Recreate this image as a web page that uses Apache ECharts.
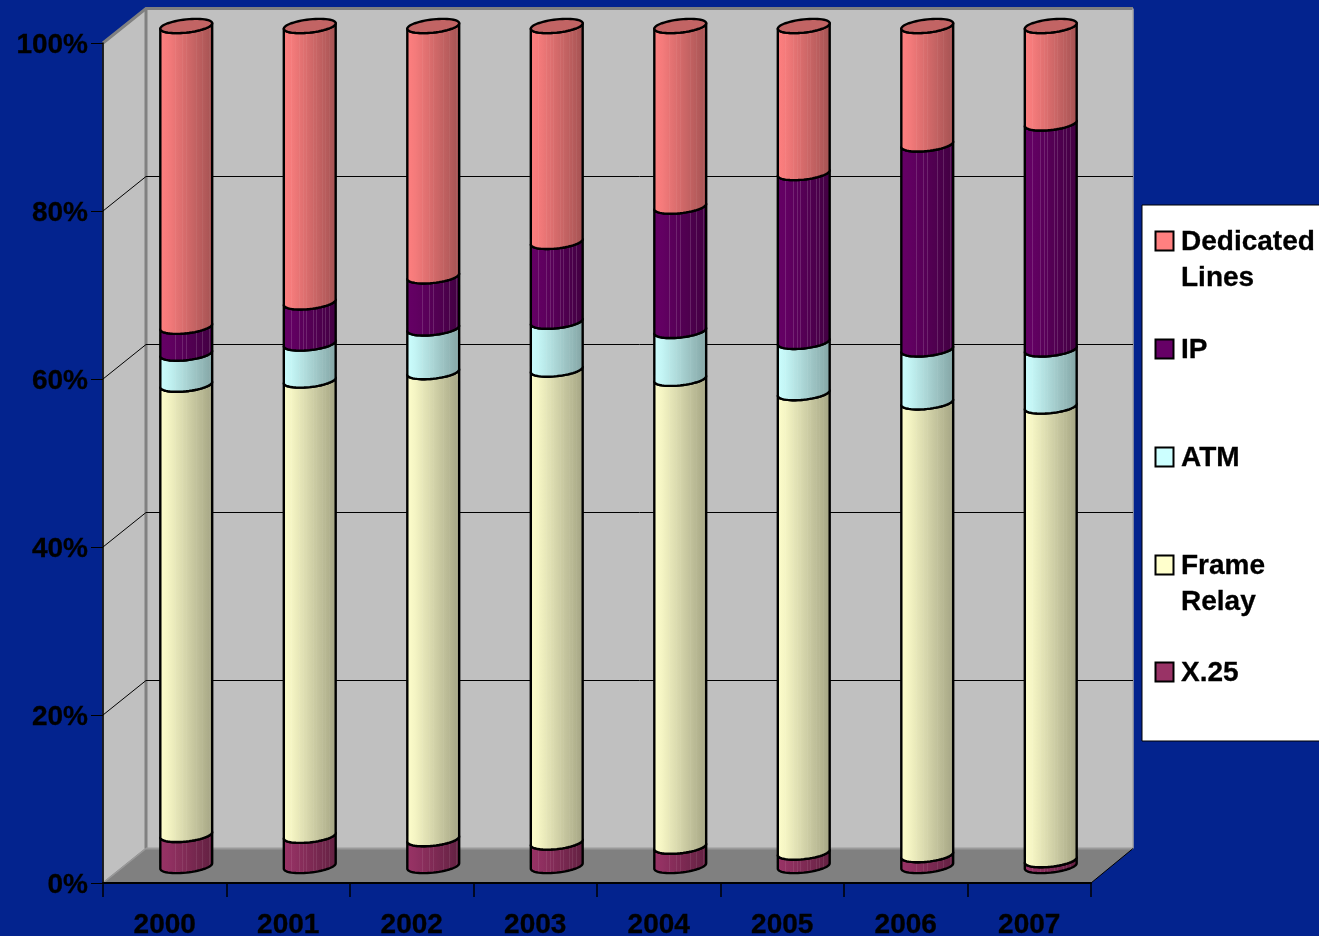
<!DOCTYPE html>
<html>
<head>
<meta charset="utf-8">
<style>html,body{margin:0;padding:0;background:#03238E;overflow:hidden}#c{width:1319px;height:936px}</style>
<script src="https://cdn.jsdelivr.net/npm/echarts@6/dist/echarts.min.js"></script>
</head>
<body>
<div id="c"></div>
<script>
const categories = ['2000','2001','2002','2003','2004','2005','2006','2007'];
const x25       = [3.7,3.6,3.2,2.8,2.3,1.6,1.3,0.7];
const frame     = [53.6,54.2,55.6,56.3,55.7,54.7,53.9,54.0];
const atm       = [3.7,4.4,5.2,5.7,5.7,6.1,6.3,6.8];
const ip        = [3.2,4.9,6.2,9.5,14.8,20.1,24.4,26.9];
const dedicated = [35.8,32.9,29.8,25.7,21.5,17.5,14.1,11.6];
const gridTicks = [0,20,40,60,80,100];

const seriesDefs = [
  {name:'X.25', values:x25, rgb:[153,51,102], stripe:.08},
  {name:'Frame Relay', values:frame, rgb:[255,255,204], stripe:.04},
  {name:'ATM', values:atm, rgb:[204,255,255], stripe:.04},
  {name:'IP', values:ip, rgb:[102,0,102], stripe:.14},
  {name:'Dedicated Lines', values:dedicated, rgb:[255,128,128], stripe:.05}
];
const legendRows = [
  {lines:['Dedicated','Lines'], rgb:[255,128,128], y:241},
  {lines:['IP'], rgb:[102,0,102], y:349},
  {lines:['ATM'], rgb:[204,255,255], y:457},
  {lines:['Frame','Relay'], rgb:[255,255,204], y:565},
  {lines:['X.25'], rgb:[153,51,102], y:672}
];

const DX = 43, DY = -34.5;          // depth of the 3D box
const MX = 21.5, MY = -17;          // where the cylinders stand inside the box
const RY = 6.6, TILT = 2.7;
const css = c => `rgb(${c.map(v=>Math.round(v)).join(',')})`;
const stripes = [.16,.3,.38,.43,.5,.56,.62,.68,.73,.79,.86,.92];

function bodyGradient(rgb, stripe){
  const shade = p => p < .06 ? 1 : 1 - .36 * (p - .06) / .94;
  const colorAt = (p, s) => {
    const k = shade(p);
    return css(rgb.map(v => { const b = v * k; return b + (255 - b) * s; }));
  };
  const stops = [];
  let prev = 0;
  stripes.forEach(p => {
    stops.push({offset:prev,color:colorAt(prev,0)});
    stops.push({offset:p,color:colorAt(p,0)});
    stops.push({offset:p,color:colorAt(p,stripe)});
    stops.push({offset:p+.012,color:colorAt(p+.012,stripe)});
    prev = p + .012;
  });
  stops.push({offset:prev,color:colorAt(prev,0)});
  stops.push({offset:1,color:colorAt(1,0)});
  return {type:'linear',x:0,y:0,x2:1,y2:0,colorStops:stops};
}
function arc(cx, cy, rx, front){
  const pts = [], n = 28;
  for(let i=0;i<=n;i++){
    const t = Math.PI - Math.PI * i / n;
    const sign = front ? 1 : -1;
    pts.push([cx + rx*Math.cos(t), cy + sign*RY*Math.sin(t) - TILT*Math.cos(t)]);
  }
  return pts;
}
function cylinderItem(def, isTop){
  return function(params, api){
    const base = api.coord([api.value(0), api.value(1)]);
    const top = api.coord([api.value(0), api.value(2)]);
    const rx = api.size([1,0])[0] * 0.21;
    const cx = base[0] + MX, yb = base[1] + MY, yt = top[1] + MY;
    const upper = arc(cx, yt, rx, true), lower = arc(cx, yb, rx, true);
    const pts = lower.slice().concat(upper.slice().reverse());
    const children = [{
      type:'polygon', shape:{points:pts},
      style:{fill:bodyGradient(def.rgb, def.stripe), stroke:'#000', lineWidth:2.4, lineJoin:'round'}
    }];
    if(isTop){
      const back = arc(cx, yt, rx, false).reverse();
      children.push({
        type:'polygon', shape:{points:upper.concat(back.slice(1,-1))},
        style:{fill:'#C26464', stroke:'#000', lineWidth:2.4}
      });
    }
    return {type:'group', children};
  };
}
const cylinderSeries = seriesDefs.map((def, si) => {
  const data = categories.map((c, i) => {
    let b = 0;
    for(let k=0;k<si;k++) b += seriesDefs[k].values[i];
    return [i, b, b + def.values[i]];
  });
  return {
    type:'custom', name:def.name, data, z:2+si, coordinateSystem:'cartesian2d',
    encode:{x:0,y:[1,2]}, silent:true, clip:false,
    renderItem:cylinderItem(def, si === seriesDefs.length-1)
  };
});

const wallSeries = {
  type:'custom', name:'walls', coordinateSystem:'cartesian2d', z:-2, silent:true, clip:false,
  data:[[0,0]], encode:{x:0,y:1},
  renderItem(params){
    const r = params.coordSys;
    const l=r.x, t=r.y, R=r.x+r.width, b=r.y+r.height;
    const grey='#808080';
    const bR = R+DX-1;
    return {type:'group',children:[
      {type:'polygon',shape:{points:[[l+DX,t+DY],[bR,t+DY],[bR,b+DY],[l+DX,b+DY]]},style:{fill:'#C0C0C0'}},
      {type:'polygon',shape:{points:[[l,t],[l+DX,t+DY],[l+DX,b+DY],[l,b]]},style:{fill:'#C0C0C0',stroke:grey,lineWidth:1.5}},
      {type:'polygon',shape:{points:[[l,b],[l+DX,b+DY],[bR,b+DY],[R,b]]},style:{fill:'#808080'}},
      {type:'polyline',shape:{points:[[l,t],[l+DX,t+DY],[bR,t+DY]]},style:{stroke:grey,lineWidth:3,fill:'none'}},
      {type:'line',shape:{x1:l+DX,y1:t+DY,x2:l+DX,y2:b+DY},style:{stroke:grey,lineWidth:3}},
      {type:'line',shape:{x1:bR,y1:t+DY,x2:bR,y2:b+DY},style:{stroke:'#a8a8a8',lineWidth:1.5}},
      {type:'line',shape:{x1:l+DX,y1:b+DY,x2:bR,y2:b+DY},style:{stroke:'#9a9a9a',lineWidth:2}},
      {type:'line',shape:{x1:R,y1:b,x2:bR,y2:b+DY},style:{stroke:'#000',lineWidth:1}},
      {type:'line',shape:{x1:l,y1:b,x2:l+DX,y2:b+DY},style:{stroke:'#9a9a9a',lineWidth:1.5}}
    ]};
  }
};
const gridSeries = {
  type:'custom', name:'gridlines', coordinateSystem:'cartesian2d', z:-1, silent:true, clip:false,
  data:gridTicks.slice(1,-1).map(v=>[0,v]), encode:{x:0,y:1},
  renderItem(params, api){
    const r = params.coordSys;
    const y = api.coord([0, api.value(1)])[1];
    return {type:'group',children:[
      {type:'line',shape:{x1:r.x,y1:y,x2:r.x+DX,y2:y+DY},style:{stroke:'#000',lineWidth:1}},
      {type:'line',shape:{x1:r.x+DX,y1:y+DY,x2:r.x+r.width+DX-1,y2:y+DY},style:{stroke:'#000',lineWidth:1}}
    ]};
  }
};

const font = '"Liberation Sans", Arial, sans-serif';
const legendGraphics = [{
  type:'rect', shape:{x:1142,y:205,width:190,height:536},
  style:{fill:'#fff',stroke:'#000',lineWidth:1}, silent:true
}];
legendRows.forEach(row => {
  legendGraphics.push({
    type:'rect', shape:{x:1155.5,y:row.y-9.5,width:18,height:19},
    style:{fill:css(row.rgb),stroke:'#000',lineWidth:2}, silent:true
  });
  row.lines.forEach((line,i) => legendGraphics.push({
    type:'text', x:1181, y:row.y+1+i*36,
    style:{text:line,font:`bold 28px ${font}`,fill:'#000',stroke:'#000',lineWidth:0.3,verticalAlign:'middle',align:'left'},
    silent:true
  }));
});

const chart = echarts.init(document.getElementById('c'), null, {width:1319,height:936,renderer:'canvas'});
chart.setOption({
  animation:false,
  backgroundColor:'#03238E',
  grid:{left:103,top:43,width:988,height:840,containLabel:false,outerBoundsMode:'none'},
  xAxis:{
    type:'category', data:categories, boundaryGap:true,
    axisLine:{show:true,lineStyle:{color:'#000',width:2}},
    axisTick:{show:true,length:14,inside:false,lineStyle:{color:'#000',width:1.5},alignWithLabel:false},
    axisLabel:{color:'#000',fontFamily:font,fontWeight:'bold',fontSize:28,margin:28,interval:0,textBorderColor:'#000',textBorderWidth:0.3},
    splitLine:{show:false}
  },
  yAxis:{
    type:'value', min:0, max:100, interval:20,
    axisLine:{show:true,lineStyle:{color:'#000',width:1.5}},
    axisTick:{show:true,length:12,lineStyle:{color:'#000',width:1}},
    axisLabel:{
      margin:15, formatter:v => `{a|${v}%}`,
      rich:{a:{color:'#000',fontFamily:font,fontWeight:'bold',fontSize:28,padding:[5,0,0,0],textBorderColor:'#000',textBorderWidth:0.3}}
    },
    splitLine:{show:false}
  },
  graphic:legendGraphics,
  series:[wallSeries, gridSeries].concat(cylinderSeries)
});
</script>
</body>
</html>
